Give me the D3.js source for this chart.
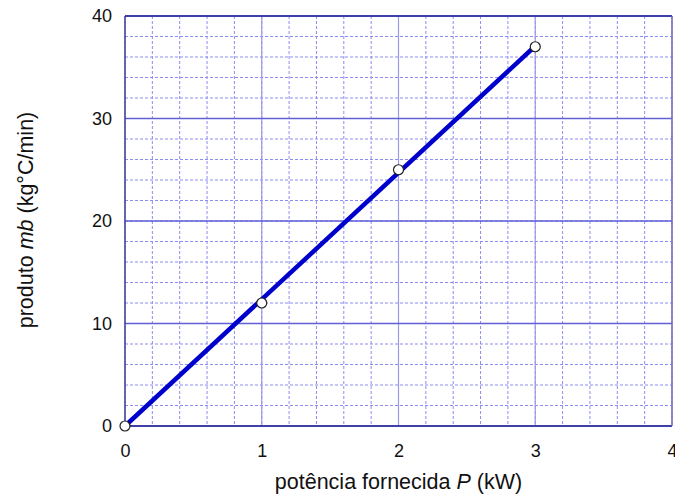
<!DOCTYPE html>
<html>
<head>
<meta charset="utf-8">
<script src="https://cdn.jsdelivr.net/npm/d3@7"></script>
<style>
  html, body { margin: 0; padding: 0; background: #fff; }
  svg { display: block; font-family: "Liberation Sans", Arial, sans-serif; }
</style>
</head>
<body>
<svg id="chart" width="675" height="498"></svg>
<script>
// Measured points: supplied power P (kW) vs product m·b (kg°C/min)
const powerKW = [0, 1, 2, 3];
const productMb = [0, 12, 25, 37];
const fitRange = [0, 3];

const xTicks = [0, 1, 2, 3, 4];
const yTicks = [0, 10, 20, 30, 40];
const xMinor = d3.range(0, 4.0001, 0.2);
const yMinor = d3.range(0, 40.0001, 2);

const svg = d3.select("#chart");
const m = { left: 125, top: 16, right: 3, bottom: 72 };
const W = 675 - m.left - m.right;
const H = 498 - m.top - m.bottom;

const x = d3.scaleLinear().domain([0, 4]).range([0, W]);
const y = d3.scaleLinear().domain([0, 40]).range([H, 0]);

const g = svg.append("g").attr("transform", `translate(${m.left},${m.top})`);

// minor grid (dashed)
g.append("g").selectAll("line").data(xMinor).join("line")
  .attr("x1", d => x(d)).attr("x2", d => x(d)).attr("y1", 0).attr("y2", H)
  .attr("stroke", "#8c8cf2").attr("stroke-width", 1).attr("stroke-dasharray", "3,2");
g.append("g").selectAll("line").data(yMinor).join("line")
  .attr("y1", d => y(d)).attr("y2", d => y(d)).attr("x1", 0).attr("x2", W)
  .attr("stroke", "#8c8cf2").attr("stroke-width", 1).attr("stroke-dasharray", "3,2");

// major grid (solid)
g.append("g").selectAll("line").data(xTicks).join("line")
  .attr("x1", d => x(d)).attr("x2", d => x(d)).attr("y1", 0).attr("y2", H)
  .attr("stroke", "#9a9ae6").attr("stroke-width", 1.2);
g.append("g").selectAll("line").data(yTicks).join("line")
  .attr("y1", d => y(d)).attr("y2", d => y(d)).attr("x1", 0).attr("x2", W)
  .attr("stroke", "#5f5fd6").attr("stroke-width", 1.3);

// frame
g.append("line").attr("x1", 0).attr("x2", W).attr("y1", 0).attr("y2", 0)
  .attr("stroke", "#2a2a9a").attr("stroke-width", 1.3);
g.append("line").attr("x1", 0).attr("x2", W).attr("y1", H).attr("y2", H)
  .attr("stroke", "#2a2a9a").attr("stroke-width", 1.3);
g.append("line").attr("x1", 0).attr("x2", 0).attr("y1", 0).attr("y2", H)
  .attr("stroke", "#3a3a8a").attr("stroke-width", 1.3);
g.append("line").attr("x1", W).attr("x2", W).attr("y1", 0).attr("y2", H)
  .attr("stroke", "#6a6aa8").attr("stroke-width", 1.2);

// axes (labels only)
const xAxis = g.append("g").attr("transform", `translate(0,${H})`)
  .call(d3.axisBottom(x).tickValues(xTicks).tickFormat(d3.format("d")).tickSize(0).tickPadding(18));
const yAxis = g.append("g")
  .call(d3.axisLeft(y).tickValues(yTicks).tickFormat(d3.format("d")).tickSize(0).tickPadding(13));
[xAxis, yAxis].forEach(a => {
  a.select(".domain").remove();
  a.selectAll("text").attr("font-size", 18).attr("fill", "#111")
    .attr("font-family", "'Liberation Sans', Arial, sans-serif");
});

// least-squares fit through origin
const slope = d3.sum(powerKW, (p, i) => p * productMb[i]) / d3.sum(powerKW, p => p * p);
g.append("line")
  .attr("x1", x(fitRange[0])).attr("y1", y(slope * fitRange[0]))
  .attr("x2", x(fitRange[1])).attr("y2", y(slope * fitRange[1]))
  .attr("stroke", "#0000cc").attr("stroke-width", 4.5).attr("stroke-linecap", "round");

// data markers
g.append("g").selectAll("circle").data(powerKW).join("circle")
  .attr("cx", d => x(d)).attr("cy", (d, i) => y(productMb[i])).attr("r", 5)
  .attr("fill", "#fff").attr("stroke", "#222").attr("stroke-width", 1.2);

// axis titles
const xt = svg.append("text").attr("x", m.left + W / 2).attr("y", 489)
  .attr("text-anchor", "middle").attr("font-size", 21.5).attr("fill", "#111");
xt.append("tspan").text("potência fornecida ");
xt.append("tspan").attr("font-style", "italic").text("P");
xt.append("tspan").text(" (kW)");

const yt = svg.append("text")
  .attr("transform", `translate(33,${m.top + H / 2 - 1}) rotate(-90)`)
  .attr("text-anchor", "middle").attr("font-size", 21.5).attr("fill", "#111");
yt.append("tspan").text("produto ");
yt.append("tspan").attr("font-style", "italic").text("mb");
yt.append("tspan").text(" (kg°C/min)");
</script>
</body>
</html>
